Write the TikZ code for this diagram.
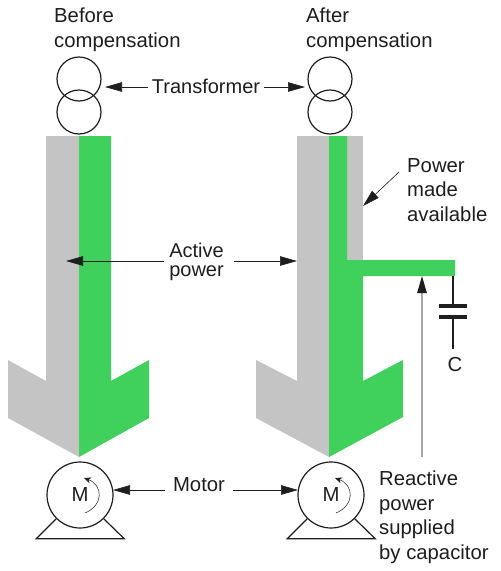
\documentclass[tikz,border=0pt]{standalone}
\usepackage{fontspec}
\setmainfont{Liberation Sans}
\usetikzlibrary{arrows.meta}
\definecolor{blockgray}{HTML}{C4C4C4}
\definecolor{blockgreen}{HTML}{40D05C}
\definecolor{inkblack}{HTML}{1E1E1E}

\begin{document}
\begin{tikzpicture}[x=1pt,y=-1pt]

    \tikzset{lbl/.style={inner sep=0pt,align=left,text=inkblack,font=\fontsize{20.3}{24.5}\selectfont}}
    \tikzset{winding/.style={circle,draw=inkblack,line width=1.2pt,minimum size=44pt,inner sep=0pt}}
    \tikzset{motorbody/.style={circle,draw=inkblack,line width=1.2pt,minimum size=66pt,inner sep=0pt,text=inkblack,font=\fontsize{20.3}{24}\selectfont}}
    \tikzset{pointer/.style={draw=inkblack,line width=0.6pt,-{Triangle[length=17pt,width=9.5pt]}}}
    \tikzset{spin/.style={draw=inkblack,line width=0.5pt,-{Stealth[length=7pt,width=6pt]}}}

    \useasboundingbox (0,0) rectangle (501,571);

    % BLOCKS BEFORE COMPENSATION
    \fill[blockgray] (46,136) -- (79,136) -- (79,457) -- (8,418) -- (8,360) -- (46,381) -- cycle;
    \fill[blockgreen] (79,136) -- (111,136) -- (111,381) -- (149,360) -- (149,418) -- (79,457) -- cycle;

    % BLOCKS AFTER COMPENSATION
    \fill[blockgray] (297,136) -- (329,136) -- (329,457) -- (256,418) -- (256,360) -- (297,381) -- cycle;
    \fill[blockgray] (347,136) -- (363,136) -- (363,260) -- (347,260) -- cycle;
    \fill[blockgreen] (329,136) -- (347,136) -- (347,260) -- (455,260) -- (455,276) -- (363,276)
        -- (363,381) -- (403,360) -- (403,417) -- (329,457) -- cycle;

    % TRANSFORMERS
    \node(t1a) at (79,79) [winding] {};
    \node(t1b) at (79,112) [winding] {};
    \node(t2a) at (330,79) [winding] {};
    \node(t2b) at (330,112) [winding] {};

    % MOTORS
    \node(m1) at (80,495) [motorbody] {M};
    \draw[line width=1.2pt,draw=inkblack] (m1.225) -- ++(-20,20) -- ++(88,0) -- (m1.-45);
    \draw[spin] ([shift={(5,18)}]m1.center) .. controls ([shift={(24,10)}]m1.center) and ([shift={(23,-10)}]m1.center) .. ([shift={(4,-17)}]m1.center);

    \node(m2) at (331,495) [motorbody] {M};
    \draw[line width=1.2pt,draw=inkblack] (m2.225) -- ++(-20,20) -- ++(88,0) -- (m2.-45);
    \draw[spin] ([shift={(5,18)}]m2.center) .. controls ([shift={(24,10)}]m2.center) and ([shift={(23,-10)}]m2.center) .. ([shift={(4,-17)}]m2.center);

    % LABELS
    \node(before) at (54,30) [lbl,anchor=west] {Before\\compensation};
    \node(after) at (306,30) [lbl,anchor=west] {After\\compensation};
    \node(transformer) at (206,86) [lbl,font=\fontsize{20}{24}\selectfont,inner xsep=4pt] {Transformer};
    \node(active) at (196.5,262) [lbl,font=\fontsize{20}{19}\selectfont,inner xsep=5pt] {Active\\power};
    \node(motor) at (199,485) [lbl,inner xsep=8pt] {Motor};
    \node(available) at (407,190) [lbl,anchor=west] {Power\\made\\available};
    \node(reactive) at (379,517) [lbl,anchor=west] {Reactive\\power\\supplied\\by capacitor};
    \node(C) at (455,365) [lbl,inner ysep=9pt] {C};

    % FREE ENDS
    \coordinate(tip1) at (105,87);
    \coordinate(tip2) at (305,87);
    \coordinate(tip3) at (66,261);
    \coordinate(tip4) at (297,261);
    \coordinate(tip5) at (113,490);
    \coordinate(tip6) at (298,490);
    \coordinate(tip7) at (363,206);
    \coordinate(tail7) at (399,172);
    \coordinate(tip8) at (422,276);
    \coordinate(tail8) at (422,457);

    % POINTERS
    \draw[pointer] (transformer.west |- tip1) -- (tip1);
    \draw[pointer] (transformer.east |- tip2) -- (tip2);
    \draw[pointer] (active.west |- tip3) -- (tip3);
    \draw[pointer,shorten <=5pt] (active.east |- tip4) -- (tip4);
    \draw[pointer] (motor.west |- tip5) -- (tip5);
    \draw[pointer] (motor.east |- tip6) -- (tip6);
    \draw[pointer] (tail7) -- (tip7);
    \draw[pointer,draw=gray!70,line width=1.1pt,-{Triangle[length=17pt,width=9.5pt,fill=inkblack,color=inkblack]}] (tail8) -- (tip8);

    % CAPACITOR
    \coordinate(capT) at (453,276);
    \coordinate(capA) at (453,306);
    \coordinate(capB) at (453,317);
    \draw[line width=1.2pt,draw=inkblack] (capT) -- (capA);
    \draw[line width=1.2pt,draw=inkblack] (capB) -- (C.north -| capB);
    \draw[line width=4pt,draw=inkblack] (439,306) -- (467,306);
    \draw[line width=4pt,draw=inkblack] (439,317) -- (467,317);

\end{tikzpicture}
\end{document}
